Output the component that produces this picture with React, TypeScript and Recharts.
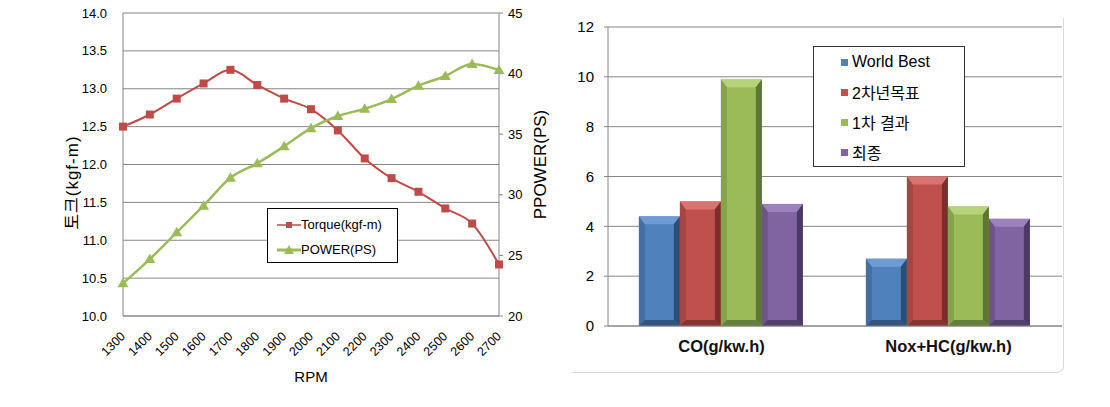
import React from "react";
import {
  ComposedChart,
  BarChart,
  Bar,
  Line,
  XAxis,
  YAxis,
  CartesianGrid,
  Legend,
} from "recharts";

// engine curve (left chart)
const rpmLabels = ["1300", "1400", "1500", "1600", "1700", "1800", "1900", "2000", "2100", "2200", "2300", "2400", "2500", "2600", "2700"];
const torqueValues = [12.5, 12.66, 12.87, 13.07, 13.25, 13.05, 12.87, 12.73, 12.45, 12.08, 11.82, 11.64, 11.42, 11.22, 10.68];
const powerValues = [22.7, 24.7, 26.9, 29.1, 31.4, 32.6, 34.0, 35.5, 36.5, 37.1, 37.9, 39.0, 39.8, 40.8, 40.3];
const torqueTicks = [10, 10.5, 11, 11.5, 12, 12.5, 13, 13.5, 14];
const powerTicks = [20, 25, 30, 35, 40, 45];
const lineSeriesOrder = ["torque", "power"];

// emissions (right chart)
const emissionCategories = ["CO(g/kw.h)", "Nox+HC(g/kw.h)"];
const seriesNames = ["World Best", "2차년목표", "1차 결과", "최종"];
const worldBest = [4.4, 2.7];
const target2 = [5.0, 6.0];
const result1 = [9.9, 4.8];
const finalValues = [4.9, 4.3];
const emissionTicks = [0, 2, 4, 6, 8, 10, 12];

const lineData = rpmLabels.map((rpm, i) => ({
  rpm,
  torque: torqueValues[i],
  power: powerValues[i],
}));

const barData = emissionCategories.map((name, i) => ({
  name,
  s0: worldBest[i],
  s1: target2[i],
  s2: result1[i],
  s3: finalValues[i],
}));

const TORQUE_COLOR = "#BE4B48";
const POWER_COLOR = "#9BBB59";
const GRID = "#868686";
const FONT = '"Liberation Sans", "Noto Sans CJK KR", sans-serif';

// face, top bevel, dark side
const barColors = [
  { face: "#4F81BD", top: "#6F9BD4", dark: "#2E4D76" },
  { face: "#C0504D", top: "#D77370", dark: "#7A2F2D" },
  { face: "#9BBB59", top: "#B6D37A", dark: "#5E7634" },
  { face: "#8064A2", top: "#9B82BC", dark: "#4B3A63" },
];

const SquareDot = (props: any) => {
  const { cx, cy, index } = props;
  if (cx == null || cy == null) return null;
  return <rect key={`sq-${index}`} x={cx - 4} y={cy - 4} width={8} height={8} fill={TORQUE_COLOR} />;
};

const TriangleDot = (props: any) => {
  const { cx, cy, index } = props;
  if (cx == null || cy == null) return null;
  return (
    <polygon
      key={`tr-${index}`}
      points={`${cx},${cy - 5.5} ${cx + 5.5},${cy + 4} ${cx - 5.5},${cy + 4}`}
      fill={POWER_COLOR}
    />
  );
};

const BevelBar = (props: any) => {
  const { x, y, width: w, height: h, colors } = props;
  if (!h || h <= 0) return null;
  const b = 6;
  const t = 8;
  return (
    <g>
      <rect x={x} y={y} width={w} height={h} fill={colors.face} />
      <polygon points={`${x},${y} ${x + w},${y} ${x + w - b},${y + t} ${x + b},${y + t}`} fill={colors.top} />
      <polygon points={`${x},${y} ${x + b},${y + t} ${x + b},${y + h - b} ${x},${y + h}`} fill={colors.dark} opacity={0.35} />
      <polygon points={`${x + w},${y} ${x + w},${y + h} ${x + w - b},${y + h - b} ${x + w - b},${y + t}`} fill={colors.dark} />
      <polygon points={`${x},${y + h} ${x + w},${y + h} ${x + w - b},${y + h - b} ${x + b},${y + h - b}`} fill={colors.dark} opacity={0.85} />
    </g>
  );
};

const LineLegend = (props: any) => {
  const payload = [...(props.payload || [])].sort(
    (a: any, b: any) => lineSeriesOrder.indexOf(a.dataKey) - lineSeriesOrder.indexOf(b.dataKey)
  );
  return (
    <div
      style={{
        border: "1px solid #000",
        background: "#fff",
        width: 131,
        height: 55,
        boxSizing: "border-box",
        padding: "3px 0 0 9px",
        fontSize: 13,
        fontFamily: FONT,
        color: "#000",
      }}
    >
      {payload.map((entry: any) => {
        const isTorque = entry.dataKey === "torque";
        return (
          <div key={entry.value} style={{ display: "flex", alignItems: "center", height: 25 }}>
            <svg width={24} height={12}>
              <line x1={0} y1={6} x2={24} y2={6} stroke={entry.color} strokeWidth={isTorque ? 1.5 : 3} />
              {isTorque ? (
                <rect x={9} y={3} width={6} height={6} fill={entry.color} />
              ) : (
                <polygon points="12,1 17,10 7,10" fill={entry.color} />
              )}
            </svg>
            <span>{entry.value}</span>
          </div>
        );
      })}
    </div>
  );
};

const BarLegend = (props: any) => {
  const payload = [...(props.payload || [])].sort(
    (a: any, b: any) => seriesNames.indexOf(a.value) - seriesNames.indexOf(b.value)
  );
  return (
    <div
      style={{
        border: "1px solid #333",
        background: "#fff",
        width: 152,
        height: 121,
        boxSizing: "border-box",
        padding: "0 0 0 27px",
        fontSize: 16,
        fontFamily: FONT,
        color: "#000",
      }}
    >
      {payload.map((entry: any) => (
        <div key={entry.value} style={{ display: "flex", alignItems: "center", height: 30 }}>
          <span
            style={{
              display: "inline-block",
              width: 7,
              height: 7,
              background: entry.color,
              marginRight: 4,
            }}
          />
          <span>{entry.value}</span>
        </div>
      ))}
    </div>
  );
};

const RotatedTick = (props: any) => {
  const { x, y, payload } = props;
  return (
    <g transform={`translate(${x + 3},${y + 21})`}>
      <text textAnchor="end" transform="rotate(-45)" fontSize={12.5} fill="#000">
        {payload.value}
      </text>
    </g>
  );
};

export default function App() {
  return (
    <div style={{ position: "absolute", left: 0, top: 0, width: 1110, height: 407, background: "#fff", fontFamily: FONT }}>
      <div style={{ position: "absolute", left: 0, top: 0 }}>
        <ComposedChart width={560} height={400} data={lineData} margin={{ top: 13, right: 0, bottom: 0, left: 0 }}>
          <CartesianGrid yAxisId="left" stroke={GRID} vertical={false} />
          <XAxis
            dataKey="rpm"
            height={84}
            axisLine={{ stroke: GRID }}
            tickLine={false}
            tickSize={0}
            tickMargin={0}
            interval={0}
            tick={<RotatedTick />}
            label={{
              content: (p: any) => {
                const vb = p.viewBox;
                return (
                  <text x={vb.x + vb.width / 2} y={vb.y + 66} textAnchor="middle" fontSize={15} fill="#000">
                    RPM
                  </text>
                );
              },
            }}
          />
          <YAxis
            yAxisId="left"
            width={123}
            domain={[10, 14]}
            ticks={torqueTicks}
            tickFormatter={(v: number) => v.toFixed(1)}
            axisLine={{ stroke: GRID }}
            tickLine={false}
            tickSize={0}
            tickMargin={16}
            tick={{ fill: "#000", fontSize: 13 }}
            label={{
              content: (p: any) => {
                const vb = p.viewBox;
                const cx = vb.x + 72;
                const cy = vb.y + vb.height / 2 + 18;
                return (
                  <text x={cx} y={cy} transform={`rotate(-90 ${cx} ${cy})`} textAnchor="middle" dominantBaseline="central" fontSize={17} letterSpacing={1} fill="#000">
                    토크(kgf-m)
                  </text>
                );
              },
            }}
          />
          <YAxis
            yAxisId="right"
            orientation="right"
            width={61}
            domain={[20, 45]}
            ticks={powerTicks}
            axisLine={{ stroke: GRID }}
            tickLine={{ stroke: GRID }}
            tickSize={4}
            tickMargin={5}
            tick={{ fill: "#000", fontSize: 13, textAnchor: "start" }}
            label={{
              content: (p: any) => {
                const vb = p.viewBox;
                const cx = vb.x + 41;
                const cy = vb.y + vb.height / 2;
                return (
                  <text x={cx} y={cy} transform={`rotate(-90 ${cx} ${cy})`} textAnchor="middle" dominantBaseline="central" fontSize={17} fill="#000">
                    PPOWER(PS)
                  </text>
                );
              },
            }}
          />
          <Legend
            verticalAlign="middle"
            layout="horizontal"
            content={<LineLegend />}
            wrapperStyle={{ left: 267, top: 208, width: 131, height: 55 }}
          />
          <Line
            yAxisId="left"
            type="monotone"
            dataKey="torque"
            name="Torque(kgf-m)"
            stroke={TORQUE_COLOR}
            strokeWidth={2}
            dot={<SquareDot />}
            activeDot={false}
            isAnimationActive={false}
          />
          <Line
            yAxisId="right"
            type="monotone"
            dataKey="power"
            name="POWER(PS)"
            stroke={POWER_COLOR}
            strokeWidth={2.5}
            dot={<TriangleDot />}
            activeDot={false}
            isAnimationActive={false}
          />
        </ComposedChart>
      </div>

      {/* faint frame of the right chart */}
      <div
        style={{
          position: "absolute",
          left: 572,
          top: 18,
          width: 491,
          height: 354,
          borderRight: "1px solid #d9d9d9",
          borderBottom: "1px solid #d9d9d9",
          borderBottomRightRadius: 7,
        }}
      />

      <div style={{ position: "absolute", left: 560, top: 0 }}>
        <BarChart
          width={510}
          height={380}
          data={barData}
          margin={{ top: 27, right: 8, bottom: 0, left: 0 }}
          barCategoryGap="13.6%"
          barGap={0}
        >
          <CartesianGrid stroke={GRID} vertical={false} />
          <XAxis
            dataKey="name"
            height={54}
            axisLine={{ stroke: GRID }}
            tickLine={false}
            tickSize={0}
            tickMargin={0}
            tick={(p: any) => (
              <text x={p.x} y={p.y + 26} textAnchor="middle" fontSize={16.5} fontWeight={600} fill="#111">
                {p.payload.value}
              </text>
            )}
          />
          <YAxis
            width={48}
            domain={[0, 12]}
            ticks={emissionTicks}
            axisLine={{ stroke: GRID }}
            tickLine={{ stroke: GRID }}
            tickSize={4}
            tickMargin={10}
            tick={{ fill: "#000", fontSize: 15 }}
          />
          <Legend
            verticalAlign="middle"
            layout="horizontal"
            content={<BarLegend />}
            wrapperStyle={{ left: 253, top: 46, width: 152, height: 121 }}
          />
          {["s0", "s1", "s2", "s3"].map((key, i) => (
            <Bar
              key={key}
              dataKey={key}
              name={seriesNames[i]}
              fill={barColors[i].face}
              shape={(p: any) => <BevelBar {...p} colors={barColors[i]} />}
              isAnimationActive={false}
            />
          ))}
        </BarChart>
      </div>
    </div>
  );
}
